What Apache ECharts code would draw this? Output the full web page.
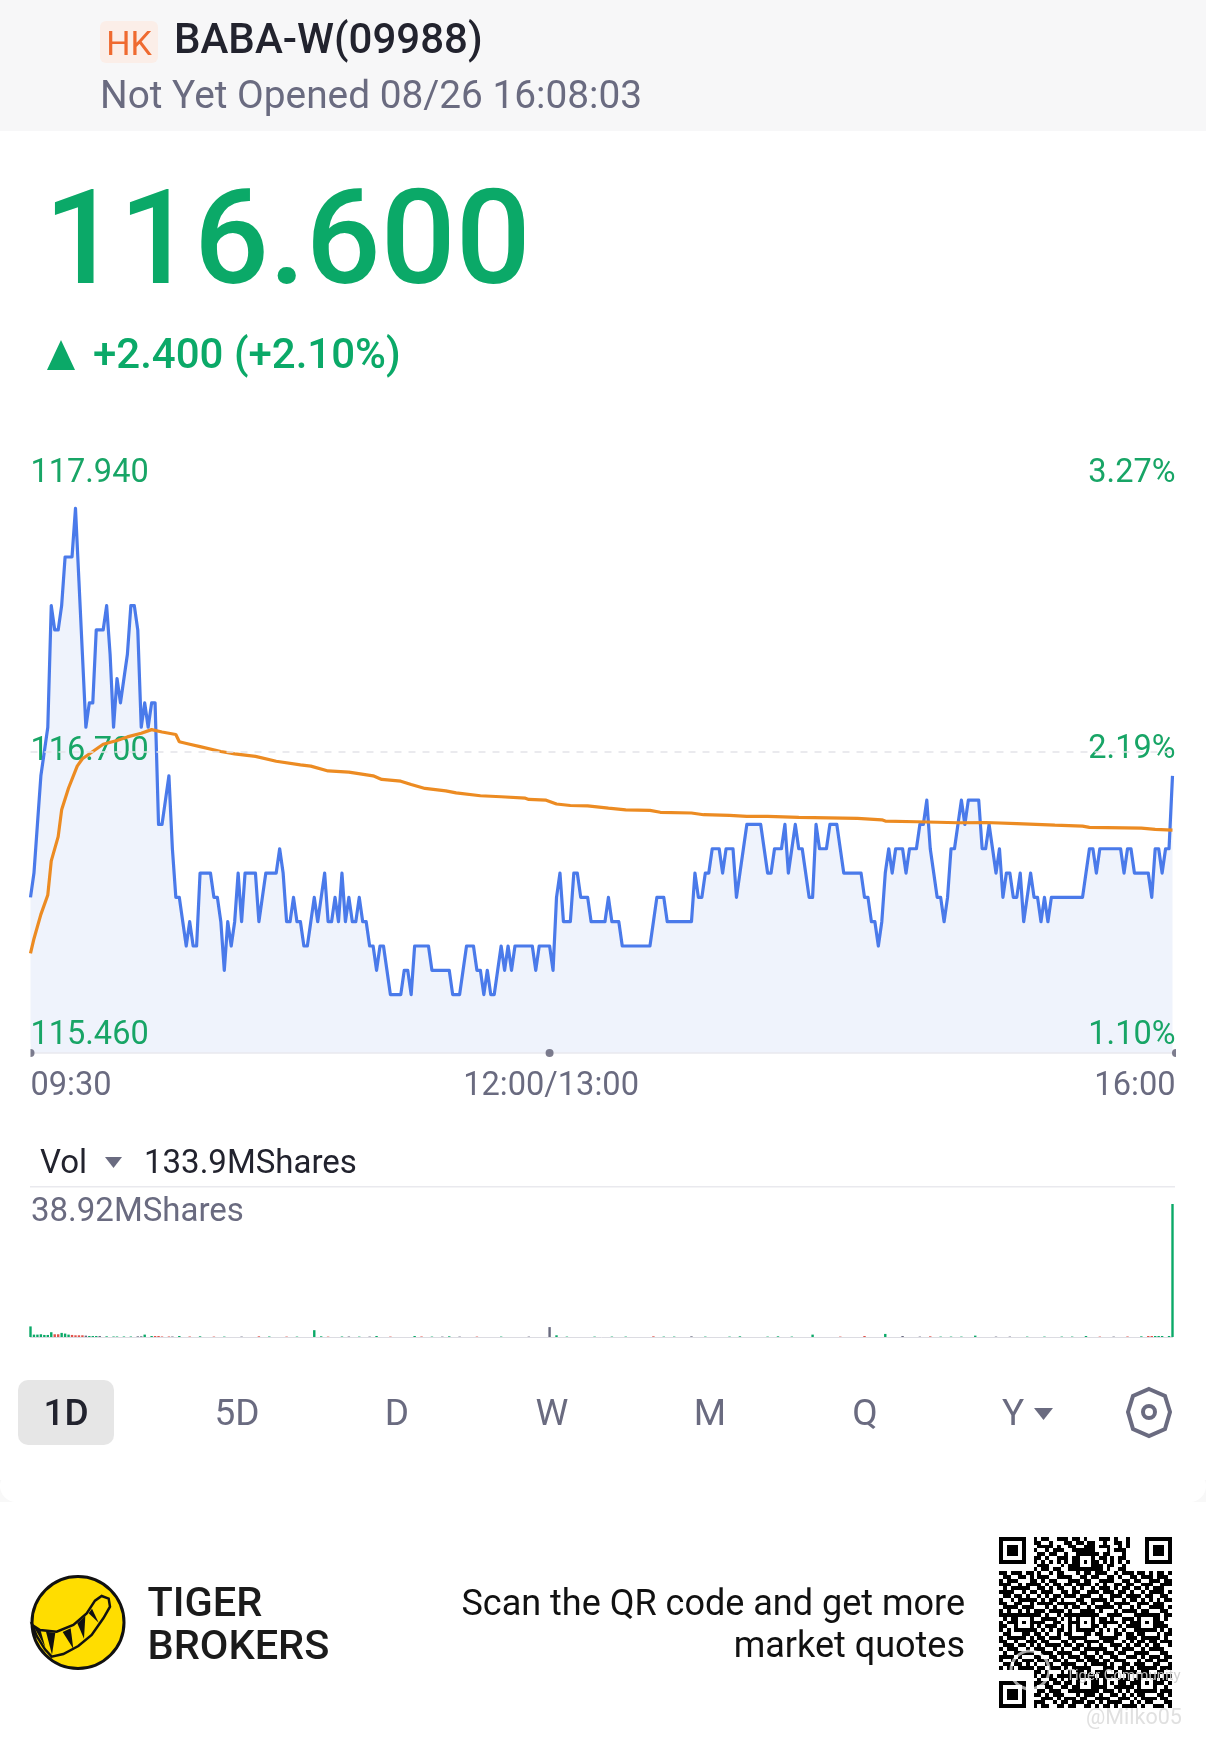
<!DOCTYPE html>
<html><head><meta charset="utf-8">
<style>html,body{margin:0;padding:0;background:#fff}#c{width:1206px;height:1743px}</style>
<script src="https://cdn.jsdelivr.net/npm/echarts@6/dist/echarts.min.js"></script>
</head><body><div id="c"></div>
<script>
const FONT='Roboto';
const GREEN='#0ba968', LABEL_GREEN='#18a566', GREY='#6a6b80', DARK='#22232e', BLUE='#4a7aea', ORANGE='#ec8b22';

const prices=[
116.1,116.2,116.4,116.6,116.7,116.8,117.3,117.2,117.2,117.3,
117.5,117.5,117.5,117.7,117.4,117.1,116.8,116.9,116.9,117.2,
117.2,117.2,117.3,117.1,116.8,117.0,116.9,117.0,117.1,117.3,
117.3,117.2,116.8,116.9,116.8,116.9,116.9,116.4,116.4,116.5,
116.6,116.3,116.1,116.1,116.0,115.9,116.0,115.9,115.9,116.2,
116.2,116.2,116.2,116.1,116.1,116.0,115.8,116.0,115.9,116.0,
116.2,116.0,116.2,116.2,116.2,116.2,116.0,116.1,116.2,116.2,
116.2,116.2,116.3,116.2,116.0,116.0,116.1,116.0,116.0,115.9,
115.9,116.0,116.1,116.0,116.1,116.2,116.0,116.0,116.1,116.0,
116.2,116.0,116.1,116.0,116.0,116.1,116.0,116.0,115.9,115.9,
115.8,115.9,115.9,115.8,115.7,115.7,115.7,115.7,115.8,115.8,
115.7,115.9,115.9,115.9,115.9,115.9,115.8,115.8,115.8,115.8,
115.8,115.8,115.7,115.7,115.7,115.8,115.9,115.9,115.9,115.8,
115.8,115.7,115.8,115.7,115.7,115.8,115.9,115.8,115.9,115.8,
115.9,115.9,115.9,115.9,115.9,115.9,115.8,115.9,115.9,115.9,
115.9,115.8,116.1,116.2,116.0,116.0,116.0,116.2,116.2,116.1,
116.1,116.1,116.0,116.0,116.0,116.0,116.0,116.1,116.0,116.0,
116.0,115.9,115.9,115.9,115.9,115.9,115.9,115.9,115.9,115.9,
116.0,116.1,116.1,116.1,116.0,116.0,116.0,116.0,116.0,116.0,
116.0,116.0,116.2,116.1,116.1,116.2,116.2,116.3,116.3,116.3,
116.2,116.3,116.3,116.3,116.1,116.2,116.3,116.4,116.4,116.4,
116.4,116.4,116.3,116.2,116.2,116.3,116.3,116.3,116.4,116.2,116.3,
116.4,116.3,116.3,116.2,116.1,116.1,116.4,116.3,116.3,116.3,
116.4,116.4,116.4,116.3,116.2,116.2,116.2,116.2,116.2,116.2,
116.1,116.1,116.0,116.0,115.9,116.0,116.2,116.3,116.2,116.3,
116.3,116.3,116.2,116.3,116.3,116.3,116.4,116.4,116.5,116.3,
116.2,116.1,116.1,116.0,116.1,116.3,116.3,116.4,116.5,116.4,
116.5,116.5,116.5,116.5,116.3,116.3,116.4,116.3,116.2,116.3,
116.1,116.2,116.2,116.1,116.1,116.2,116.0,116.1,116.2,116.1,
116.1,116.0,116.1,116.0,116.1,116.1,116.1,116.1,116.1,
116.1,116.1,116.1,116.1,116.1,116.2,116.3,116.3,116.2,116.3,
116.3,116.3,116.3,116.3,116.3,116.3,116.2,116.3,116.3,116.2,
116.2,116.2,116.2,116.2,116.1,116.3,116.3,116.2,116.3,116.3,
116.6];

const avgMinutes=[0,1,3,5,6,8,9,11,13.5,15,18,21,25,28,32,35,38,42,43,46,49,55,59,65,71,78,81,86,92,99,101.5,107,110,114,120,123,130,136,143,144,149,152,156,161,167,172,179,182,191,194.5,202,207,213,222,239,246,247,256,268,276,285,296,304,306,321,325,330];
const avgPrices=[115.87,115.93,116.03,116.11,116.25,116.35,116.46,116.55,116.64,116.67,116.70,116.73,116.745,116.76,116.775,116.79,116.78,116.77,116.74,116.73,116.72,116.70,116.69,116.68,116.66,116.645,116.64,116.62,116.615,116.60,116.585,116.578,116.564,116.548,116.538,116.53,116.518,116.514,116.508,116.503,116.50,116.484,116.478,116.476,116.467,116.46,116.458,116.45,116.447,116.44,116.437,116.433,116.433,116.429,116.425,116.419,116.414,116.411,116.407,116.408,116.403,116.397,116.393,116.388,116.385,116.38,116.377];

const volMinutes=[0,1,2,3,4,5,6,7,8,9,10,11,12,13,14,15,16,17,18,19,20,22,24,25,27,29,31,32,33,35,36,37,38,40,41,43,46,49,53,56,61,66,69,74,77,82,84,86,90,92,95,98,100,104,111,113,116,119,121,124,129,136,144,150,152,155,163,168,172,180,183,186,191,195,202,205,213,216,220,226,234,241,247,252,257,260,263,266,269,273,279,283,288,293,298,301,305,309,313,317,321,323,324,325,326,327,329,330];
const volShares=[3.1,0.7,0.7,0.8,0.6,0.6,1.4,0.8,0.8,1.2,1.0,0.7,0.6,0.5,0.5,0.5,0.4,0.3,0.3,0.3,0.3,0.2,0.15,0.15,0.15,0.15,0.2,0.2,0.7,0.3,0.3,0.3,0.15,0.15,0.15,0.3,0.15,0.2,0.12,0.12,0.12,0.2,0.15,0.12,0.12,2.0,0.2,0.12,0.15,0.15,0.12,0.12,0.3,0.12,0.3,0.15,0.12,0.12,0.2,0.12,0.12,0.12,0.12,2.9,0.5,0.12,0.12,0.12,0.12,0.2,0.12,0.12,0.2,0.12,0.12,0.2,0.12,0.2,0.12,0.7,0.12,0.3,0.9,0.3,0.12,0.2,0.12,0.12,0.12,0.4,0.12,0.12,0.12,0.12,0.12,0.12,0.3,0.12,0.12,0.15,0.2,0.3,0.3,0.3,0.3,0.3,0.3,38.92];
const volDirections='gggggggrrgggrrrrngggngggggnnggrrrrngrgrgnrgrgggrgngngrgrgngnrgnngggggrggngggggggrrgnnrggggnngggggrnrgrrggg';

const xTickValues=[0,150,330], xTickLabels=['09:30','12:00/13:00','16:00'];
const dotMinutes=[0,150,331];
const priceTicks=[115.46,116.70,117.94];
const pctTicks=[1.10,2.19,3.27];
const refPrice=116.70;
const maxVol=38.92;
const tabs=[['5D',237],['D',397],['W',552],['M',710],['Q',865]];

const qrRows=[
"000000000101100111011010001110100100000000000",
"000000000110010001101101100100110100000000000",
"000000000011110100110011101110010100000000000",
"000000000100101110011111100010111000000000000",
"000000000011011001000110110110001000000000000",
"000000000110100111010110101101011000000000000",
"000000000101010101010101010101010100000000000",
"000000000011100010110100011011001000000000000",
"000000000101101100111100111010011000000000000",
"110111011010010110001011011100101110110101101",
"011001101011100111100110110011010011011101110",
"101110001101011000111011001111001101100111011",
"111001011110101101101111010100110110011100111",
"010111110011010110010100101110101101101011100",
"111100101101110011011001110111011010010111101",
"011011010010101101110111001001110111101100110",
"100101111101011010001100111101001011010101011",
"110011001011110111110110100110111100111011100",
"011110111000101001011001011111010010100111101",
"101001010111011110100111101000101111011000110",
"111111100110100101111010110011110001110101011",
"010100111001111010101110001101001110111101010",
"101111101111001100111111101111101011101111100",
"110001011010111010100010110100010111010001110",
"101010101101010110101010101010101001101010101",
"011000110110100101100011011000110110110001011",
"101111101011011100111110001111100111011111010",
"110010011101100011010011110111001010110110111",
"011101101010111101101101001001110101101011001",
"101110010111001010011011111100101110010111100",
"010011111001110111100110010111011001111000110",
"111101000110011010111011101001100111010111011",
"100110111011101101001101110110111000101101110",
"011011010100110011110010111101001101110011001",
"101101111011011101011111000111011010111110111",
"000000000110100010101101011100101111011001100",
"000000000101110111110111101111100100110101011",
"000000000010011010100011010100011101101110110",
"000000000111101101101011110101011011010101101",
"000000000100110011010111011100111110101110010",
"000000000011011100111100110111010101111010111",
"000000000110101110001011101001101010110001101",
"000000000001110101110110011110011101011110110",
"000000000111001011011101101011110010101100011",
"000000000101100110110011010110101111010011101"];

function qrRects(x0,y0,w,h){
  const n=45,mx=w/n,my=h/n,out=[];
  const X=i=>Math.round(x0+i*mx),Y=j=>Math.round(y0+j*my);
  const add=(a,b,c,e,fill)=>out.push({type:'rect',z:45,silent:true,shape:{x:X(a),y:Y(b),width:X(a+c)-X(a),height:Y(b+e)-Y(b)},style:{fill:fill||'#000'}});
  qrRows.forEach((row,j)=>{let i=0;while(i<n){if(row[i]==='1'){let s=i;while(row[i]==='1')i++;add(s,j,i-s,1);}else i++;}});
  const finder=(a,b,size)=>{
    add(a,b,size,size,'#000');add(a+1,b+1,size-2,size-2,'#fff');add(a+2,b+2,size-4,size-4,'#000');
  };
  finder(0,0,7);finder(38,0,7);finder(0,38,7);
  [[20,20],[36,20],[20,36],[36,36],[20,4],[4,20]].forEach(q=>finder(q[0],q[1],5));
  return out;
}

function t(x,base,text,size,color,weight,align){
  return {type:'text',x:x,y:base-size*0.25,z:50,silent:true,style:{text:text,fill:color,font:`${weight||400} ${size}px ${FONT}`,align:align||'left',verticalAlign:'middle'}};
}
function r(x,y,w,h,fill,radius){return {type:'rect',z:40,silent:true,shape:{x:x,y:y,width:w,height:h,r:radius||0},style:{fill:fill}};}
function poly(points,fill,zIdx,stroke,lw,smooth){
  return {type:'polygon',z:zIdx||45,silent:true,shape:{points:points,smooth:smooth||0},style:{fill:fill,stroke:stroke||null,lineWidth:lw||0}};
}
const L=a=>a.map(q=>[20+q[0]/3,1560+q[1]/3]);

const graphic=[
  r(0,0,1206,131,'#f7f7f8'),
  r(100,21,58,42,'#fbeee8',6),
  t(129,55,'HK',34,'#ef6a30',400,'center'),
  t(174,52.5,'BABA-W(09988)',42,DARK,500),
  t(100,108,'Not Yet Opened 08/26 16:08:03',38.8,GREY,400),
  t(44,283,'116.600',132,GREEN,500),
  poly([[47,370],[61,340],[75,370]],GREEN),
  t(93,368,'+2.400 (+2.10%)',42,GREEN,500),
  t(40,1173,'Vol',33,DARK,400),
  poly([[105,1157],[122,1157],[113.5,1168]],GREY),
  t(144,1173,'133.9MShares',33,DARK,400),
  r(30,1186,1145,1.5,'#e9e9ee'),
  t(31,1221,maxVol+'MShares',33,GREY,400),
  r(18,1380,96,65,'#e6e6e6',10),
  t(66,1425,'1D',37,DARK,500,'center'),
  ...tabs.map(a=>t(a[1],1425,a[0],37,GREY,400,'center')),
  t(1013,1425,'Y',37,GREY,400,'center'),
  poly([[1034,1408],[1053,1408],[1043.5,1420]],GREY),
  poly([[1149,1389],[1165,1396],[1170,1412],[1165,1429],[1149,1436],[1133,1429],[1128,1412],[1133,1396]],'none',45,GREY,4),
  {type:'circle',z:45,silent:true,shape:{cx:1149,cy:1412,r:6},style:{fill:'none',stroke:GREY,lineWidth:4}},
  r(0,1480,1206,22,'#f8f8f8'),
  r(0,1470,1206,32,'#ffffff',22),
  {type:'circle',z:45,silent:true,shape:{cx:78,cy:1622.5,r:46},style:{fill:'#ffdd00',stroke:'#111',lineWidth:3}},
  poly(L([[37,195],[60,210],[110,215],[160,195],[200,160],[225,122],[245,108],[266,116],[270,140],[250,175],[215,225],[175,258],[130,282],[95,290],[75,268],[50,228]]),'#ffdd00',46,'#111',2.5),
  poly(L([[40,198],[62,212],[76,262]]),'#111',47),
  poly(L([[78,215],[106,218],[96,284]]),'#111',47),
  poly(L([[128,216],[152,205],[160,266]]),'#111',47),
  poly(L([[172,190],[196,168],[192,236]]),'#111',47),
  poly(L([[206,160],[216,146],[236,188]]),'#111',47),
  t(147.5,1616,'TIGER',41.5,'#1b1b1b',500),
  t(147.5,1659,'BROKERS',41.5,'#1b1b1b',500),
  t(965,1615,'Scan the QR code and get more',36,'#111',400,'right'),
  t(965,1657,'market quotes',36,'#111',400,'right'),
  ...qrRects(999,1537,173,171),
  {type:'circle',z:48,silent:true,shape:{cx:1030,cy:1670,r:19},style:{fill:'none',stroke:'rgba(255,255,255,0.65)',lineWidth:3}},
  t(1066,1680,'Tiger Community',15,'rgba(205,205,205,0.9)',400),
  t(1086,1724,'@Milko05',21.5,'#e0e0e0',400),
  r(24,1044,6.5,18,'#fff'),
  r(1176,1044,10,18,'#fff')
];

const dirColor={g:GREEN,r:'#e0524a',n:GREY};
const option={
  animation:false,
  backgroundColor:'#fff',
  textStyle:{fontFamily:FONT},
  grid:[
    {left:30.5,right:33.5,top:450,height:603},
    {left:30.5,right:33.5,top:1204,height:133}
  ],
  xAxis:[
    {type:'value',gridIndex:0,min:0,max:330,splitLine:{show:false},z:2,
     axisLine:{show:true,onZero:false,lineStyle:{color:'#e9e9ee',width:1.5}},axisTick:{show:false},
     axisLabel:{customValues:xTickValues,color:GREY,fontSize:32.6,fontFamily:FONT,margin:17,alignMinLabel:'left',alignMaxLabel:'right',padding:[0,-3,0,0],
       formatter:v=>xTickLabels[xTickValues.indexOf(v)]}},
    {type:'value',gridIndex:1,min:0,max:330,splitLine:{show:false},
     axisLine:{show:true,onZero:false,lineStyle:{color:'#dcdce2',width:1}},axisTick:{show:false},axisLabel:{show:false}}
  ],
  yAxis:[
    {type:'value',gridIndex:0,position:'left',min:priceTicks[0],max:priceTicks[2],splitLine:{show:false},axisLine:{show:false},axisTick:{show:false},z:2,
     axisLabel:{inside:true,margin:0,padding:[4,0,-3,0],customValues:priceTicks,color:LABEL_GREEN,fontSize:32.5,lineHeight:40,fontFamily:FONT,verticalAlignMinLabel:'bottom',verticalAlignMaxLabel:'top',
       formatter:v=>v.toFixed(3)}},
    {type:'value',gridIndex:0,position:'right',min:pctTicks[0],max:pctTicks[2],splitLine:{show:false},axisLine:{show:false},axisTick:{show:false},z:2,
     axisLabel:{inside:true,margin:0,padding:[4,-3,-3,0],customValues:pctTicks,color:LABEL_GREEN,fontSize:32.5,lineHeight:40,fontFamily:FONT,verticalAlignMinLabel:'bottom',verticalAlignMaxLabel:'top',
       formatter:v=>v.toFixed(2)+'%'}},
    {type:'value',gridIndex:1,min:0,max:maxVol,show:false}
  ],
  series:[
    {type:'line',name:'PriceArea',xAxisIndex:0,yAxisIndex:0,symbol:'none',z:1,
     data:prices.map((v,i)=>[i,v]),
     lineStyle:{width:0},areaStyle:{color:'#eff3fc',opacity:1,origin:'start'}},
    {type:'line',name:'Price',xAxisIndex:0,yAxisIndex:0,symbol:'none',z:3,
     data:prices.map((v,i)=>[i,v]),
     lineStyle:{color:BLUE,width:3.2,join:'round'},
     markLine:{silent:true,symbol:'none',label:{show:false},lineStyle:{color:'#e4e4e9',type:[7,7],width:1.5},data:[{yAxis:refPrice}]}},
    {type:'line',name:'Average',xAxisIndex:0,yAxisIndex:0,symbol:'none',z:4,
     data:avgMinutes.map((m,i)=>[m,avgPrices[i]]),lineStyle:{color:ORANGE,width:3.2}},
    {type:'scatter',xAxisIndex:0,yAxisIndex:0,symbol:'circle',symbolSize:8,z:5,clip:false,itemStyle:{color:'#5c5d72'},
     data:dotMinutes.map(v=>[v,priceTicks[0]])},
    {type:'bar',name:'Volume',xAxisIndex:1,yAxisIndex:2,barWidth:2.4,
     data:volMinutes.map((m,i)=>({value:[m,volShares[i]],itemStyle:{color:dirColor[volDirections[i]||'g']}}))}
  ],
  graphic:{elements:graphic}
};
const chart=echarts.init(document.getElementById('c'),null,{renderer:'canvas',width:1206,height:1743,devicePixelRatio:1});
chart.setOption(option);
</script></body></html>
